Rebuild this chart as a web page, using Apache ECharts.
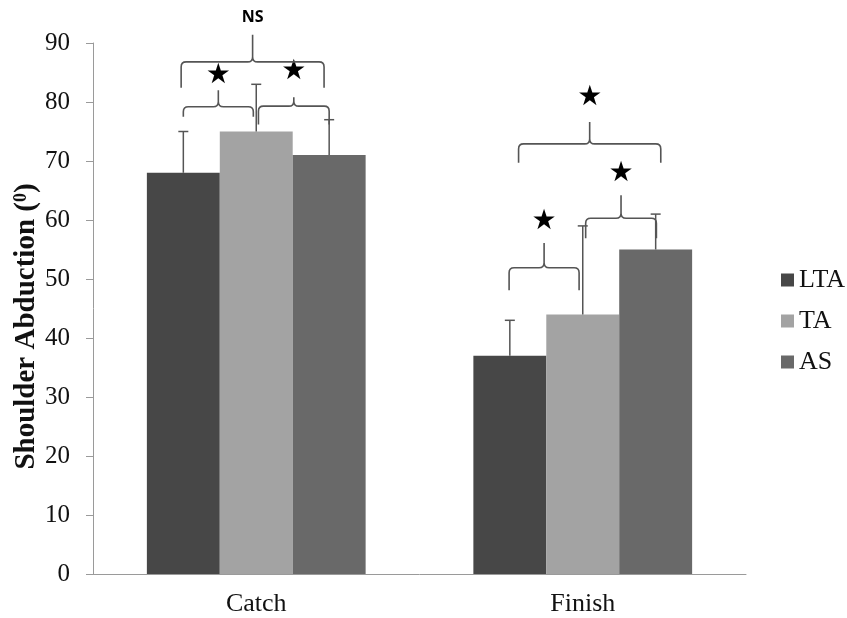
<!DOCTYPE html>
<html><head><meta charset="utf-8">
<script src="https://cdn.jsdelivr.net/npm/echarts@6/dist/echarts.min.js"></script>
<style>html,body{margin:0;padding:0;background:#fff}#c{width:847px;height:618px}</style>
</head><body><div id="c"></div>
<script>
const categories = ['Catch', 'Finish'];
const seriesNames = ['LTA', 'TA', 'AS'];
const LTA = [68, 37];
const TA = [75, 44];
const AS = [71, 55];
const LTA_upper = [75, 43];
const TA_upper = [83, 59];
const AS_upper = [77, 61];
const yMin = 0, yMax = 90, yInterval = 10;

// significance brackets (x in bar-index units within a category: 0=LTA, 1=TA, 2=AS)
const bracketCategory = [0, 0, 0, 1, 1, 1];
const bracketFrom = [0.0, 1.03, -0.03, -0.01, 1.04, 0.12];
const bracketTo = [0.96, 2.0, 1.93, 0.95, 2.01, 2.07];
const bracketLevel = [79.2, 79.3, 86.8, 51.9, 60.3, 72.9];
const bracketEnd = [77.5, 76.2, 82.4, 48.1, 56.9, 69.7];
const bracketPeak = [82.0, 80.8, 91.4, 56.1, 64.2, 76.6];
const bracketMarkY = [84.4, 85.1, 94.4, 59.7, 67.8, 80.7];
const bracketMark = ['★', '★', 'NS', '★', '★', '★'];

const colors = ['#474747', '#a3a3a3', '#696969'];
const CAT_GAP = 0.33;
const serif = '"Liberation Serif","Times New Roman",serif';

const values = [LTA, TA, AS];
const uppers = [LTA_upper, TA_upper, AS_upper];

function barX(api, cat, pos) {
  const c = api.coord([cat, 0]);
  const band = api.size([1, 0])[0];
  const bw = band * (1 - CAT_GAP) / 3;
  return c[0] + (pos - 1) * bw;
}

const errData = [];
for (let s = 0; s < 3; s++) for (let c = 0; c < categories.length; c++) errData.push([c, s, values[s][c], uppers[s][c]]);

const bracketData = bracketCategory.map((c, i) => ({
  value: [c, bracketFrom[i], bracketTo[i], bracketLevel[i], bracketEnd[i], bracketPeak[i], bracketMarkY[i]],
  name: bracketMark[i]
}));

const chart = echarts.init(document.getElementById('c'), null, { renderer: 'canvas' });
chart.setOption({
  animation: false,
  backgroundColor: '#fff',
  grid: { left: 93, right: 101, top: 43, bottom: 44, containLabel: false, outerBoundsMode: 'none' },
  legend: {
    data: seriesNames, orient: 'vertical', left: 776, top: 262,
    icon: 'rect', itemWidth: 13, itemHeight: 13, itemGap: 15,
    textStyle: { fontFamily: serif, fontSize: 26, color: '#111', lineHeight: 26 }
  },
  xAxis: {
    type: 'category', data: categories,
    axisLine: { lineStyle: { color: '#9a9a9a', width: 1 } },
    axisTick: { length: 9, lineStyle: { color: '#9a9a9a' } },
    axisLabel: { fontFamily: serif, fontSize: 26, color: '#111', margin: 17 }
  },
  yAxis: {
    type: 'value', min: yMin, max: yMax, interval: yInterval,
    splitLine: { show: false },
    axisLine: { show: true, lineStyle: { color: '#9a9a9a', width: 1 } },
    axisTick: { show: true, length: 7, lineStyle: { color: '#9a9a9a' } },
    axisLabel: { fontFamily: serif, fontSize: 25, color: '#111', margin: 23 },
    name: 'Shoulder Abduction ({sup|0})',
    nameLocation: 'middle', nameGap: 52, nameRotate: 90, nameMoveOverlap: false,
    nameTextStyle: {
      fontFamily: serif, fontSize: 29, fontWeight: 'bold', color: '#111', padding: [0, 36, 0, 0],
      rich: { sup: { fontFamily: serif, fontSize: 18, fontWeight: 'bold', color: '#111', verticalAlign: 'top', lineHeight: 29 } }
    }
  },
  series: [
    ...seriesNames.map((n, s) => ({
      name: n, type: 'bar', data: values[s],
      barGap: '0%', barCategoryGap: (CAT_GAP * 100) + '%',
      itemStyle: { color: colors[s] }
    })),
    {
      type: 'custom', name: 'err', data: errData, z: 5,
      encode: { x: 0, y: 3 },
      renderItem: function (params, api) {
        const cat = api.value(0), s = api.value(1);
        const x = barX(api, cat, s);
        const yb = api.coord([cat, api.value(2)])[1];
        const yt = api.coord([cat, api.value(3)])[1];
        const st = { stroke: '#555', lineWidth: 1.5 };
        return { type: 'group', children: [
          { type: 'line', shape: { x1: x, y1: yb, x2: x, y2: yt }, style: st },
          { type: 'line', shape: { x1: x - 5, y1: yt, x2: x + 5, y2: yt }, style: st }
        ] };
      }
    },
    {
      type: 'custom', name: 'brackets', data: bracketData, z: 6,
      encode: { x: 0, y: 3 },
      renderItem: function (params, api) {
        const cat = api.value(0);
        const x1 = barX(api, cat, api.value(1));
        const x2 = barX(api, cat, api.value(2));
        const xm = (x1 + x2) / 2;
        const yH = api.coord([cat, api.value(3)])[1];
        const yE = api.coord([cat, api.value(4)])[1];
        const yP = api.coord([cat, api.value(5)])[1];
        const yM = api.coord([cat, api.value(6)])[1];
        const r = 5;
        const path = 'M' + x1 + ',' + yE + ' L' + x1 + ',' + (yH + r) + ' Q' + x1 + ',' + yH + ' ' + (x1 + r) + ',' + yH +
          ' L' + (xm - r) + ',' + yH + ' Q' + xm + ',' + yH + ' ' + xm + ',' + (yH - r) + ' L' + xm + ',' + yP +
          ' M' + x2 + ',' + yE + ' L' + x2 + ',' + (yH + r) + ' Q' + x2 + ',' + yH + ' ' + (x2 - r) + ',' + yH +
          ' L' + (xm + r) + ',' + yH + ' Q' + xm + ',' + yH + ' ' + xm + ',' + (yH - r);
        const mark = bracketMark[params.dataIndex];
        const isStar = mark === '★';
        return { type: 'group', children: [
          { type: 'path', shape: { pathData: path }, style: { fill: null, stroke: '#555', lineWidth: 1.6 } },
          { type: 'text', x: xm, y: yM, style: {
            text: mark, align: 'center', verticalAlign: 'middle', fill: '#000',
            fontFamily: isStar ? '"DejaVu Sans"' : '"Open Sans"', fontWeight: isStar ? 'normal' : 'bold',
            fontSize: isStar ? 28 : 16 } }
        ] };
      }
    }
  ]
});
</script></body></html>
